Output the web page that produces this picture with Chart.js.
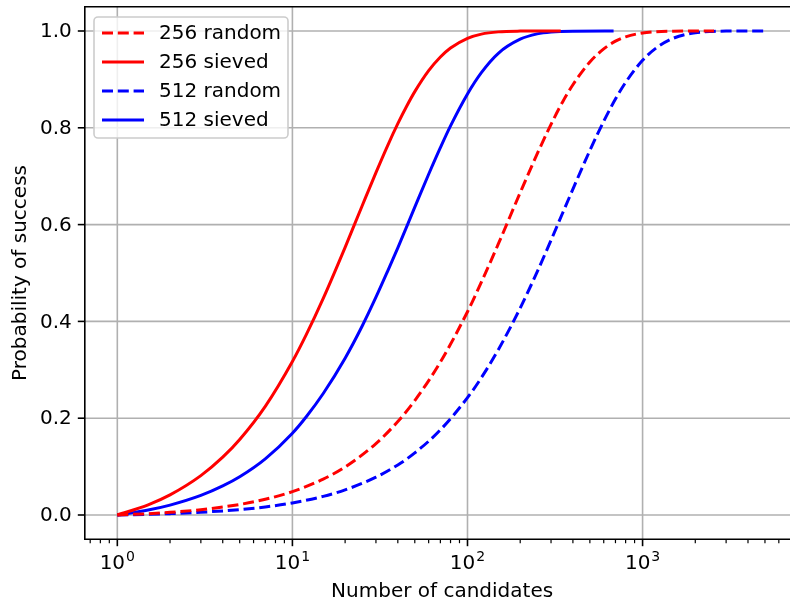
<!DOCTYPE html>
<html>
<head>
<meta charset="utf-8">
<script src="https://cdn.jsdelivr.net/npm/chart.js@4"></script>
<style>
  html, body { margin: 0; padding: 0; background: #fff; }
  canvas { display: block; }
</style>
</head>
<body>
<canvas id="probChart" width="790" height="604"></canvas>
<script>
  // values
  const candidates256Random = [1, 1.5, 2, 3, 5, 7, 10, 15, 20, 30, 40, 50, 70, 100, 120, 150, 200, 250, 300, 350, 400, 500, 600, 700, 800, 1000, 1200, 1500, 2000, 2560];
  const prob256Random = [0, 0.0027, 0.0055, 0.011, 0.0218, 0.0325, 0.0483, 0.0742, 0.0993, 0.1475, 0.1932, 0.2364, 0.316, 0.42, 0.481, 0.56, 0.666, 0.746, 0.807, 0.854, 0.889, 0.936, 0.963, 0.979, 0.988, 0.996, 0.9986, 0.9997, 1.0, 1.0];

  const candidates256Sieved = [1, 1.5, 2, 3, 4, 5, 7, 10, 12, 15, 20, 25, 30, 35, 40, 45, 50, 60, 70, 80, 100, 120, 150, 200, 250, 341];
  const prob256Sieved = [0, 0.021, 0.0415, 0.0813, 0.1194, 0.156, 0.2245, 0.3172, 0.3727, 0.4476, 0.5531, 0.6385, 0.7075, 0.7634, 0.8085, 0.845, 0.8747, 0.918, 0.9463, 0.9649, 0.985, 0.9936, 0.9982, 0.9998, 1.0, 1.0];

  const candidates512Random = [1, 1.5, 2, 3, 5, 7, 10, 15, 20, 30, 40, 50, 70, 100, 120, 150, 200, 250, 300, 350, 400, 500, 600, 700, 800, 1000, 1200, 1500, 2000, 2500, 3000, 5120];
  const prob512Random = [0, 0.0014, 0.0028, 0.0056, 0.0112, 0.0167, 0.0249, 0.0385, 0.0519, 0.0781, 0.1035, 0.1282, 0.1759, 0.2424, 0.2837, 0.3416, 0.4275, 0.5024, 0.5677, 0.6245, 0.6733, 0.7531, 0.8135, 0.8594, 0.8937, 0.9394, 0.9653, 0.9851, 0.9963, 0.9991, 0.9998, 1.0];

  const candidates512Sieved = [1, 1.5, 2, 3, 4, 5, 7, 10, 12, 15, 20, 25, 30, 35, 40, 50, 60, 70, 80, 100, 120, 150, 200, 250, 300, 400, 683];
  const prob512Sieved = [0, 0.0102, 0.0204, 0.0404, 0.06, 0.079, 0.116, 0.169, 0.203, 0.251, 0.324, 0.39, 0.45, 0.504, 0.552, 0.636, 0.704, 0.759, 0.804, 0.87, 0.914, 0.954, 0.983, 0.994, 0.998, 0.9997, 1.0];

  const seriesLabels = ['256 random', '256 sieved', '512 random', '512 sieved'];

  const xMajorTicks = [1, 10, 100, 1000];
  const xTickExponents = ['0', '1', '2', '3'];
  const yTicks = [0, 0.2, 0.4, 0.6, 0.8, 1.0];
  const yTickLabels = ['0.0', '0.2', '0.4', '0.6', '0.8', '1.0'];

  const FONT = '"DejaVu Sans", "Liberation Sans", sans-serif';
  const DASH = [11, 4.8];

  function toPoints(xs, ys) {
    return xs.map((x, i) => ({ x: x, y: ys[i] }));
  }

  function lineSet(label, xs, ys, color, dashed) {
    return {
      label: label,
      data: toPoints(xs, ys),
      borderColor: color,
      backgroundColor: color,
      borderWidth: 3,
      borderDash: dashed ? DASH : [],
      pointRadius: 0,
      fill: false,
      cubicInterpolationMode: 'monotone'
    };
  }

  // matplotlib-like axes, ticks, labels and legend
  const mplAxes = {
    id: 'mplAxes',
    beforeDatasetsDraw(chart) {
      const ctx = chart.ctx;
      const a = chart.chartArea;
      const xs = chart.scales.x, ys = chart.scales.y;
      ctx.save();
      ctx.strokeStyle = '#b0b0b0';
      ctx.lineWidth = 1.6;
      xMajorTicks.forEach(v => {
        const px = xs.getPixelForValue(v);
        ctx.beginPath(); ctx.moveTo(px, a.top); ctx.lineTo(px, a.bottom); ctx.stroke();
      });
      yTicks.forEach(v => {
        const py = ys.getPixelForValue(v);
        ctx.beginPath(); ctx.moveTo(a.left, py); ctx.lineTo(a.right, py); ctx.stroke();
      });
      ctx.restore();
    },
    afterDatasetsDraw(chart) {
      const ctx = chart.ctx;
      const a = chart.chartArea;
      const xs = chart.scales.x, ys = chart.scales.y;
      ctx.save();

      // spines (right one falls outside the picture)
      ctx.strokeStyle = '#000';
      ctx.lineWidth = 1.6;
      ctx.beginPath();
      ctx.moveTo(a.right + 2, a.top); ctx.lineTo(a.left, a.top);
      ctx.lineTo(a.left, a.bottom); ctx.lineTo(a.right + 2, a.bottom);
      ctx.stroke();

      // x ticks
      xMajorTicks.forEach(v => {
        const px = xs.getPixelForValue(v);
        ctx.beginPath(); ctx.moveTo(px, a.bottom); ctx.lineTo(px, a.bottom + 7); ctx.stroke();
      });
      ctx.lineWidth = 1.2;
      for (let k = -1; k <= 3; k++) {
        for (let m = 2; m <= 9; m++) {
          const v = m * Math.pow(10, k);
          if (v < xs.min || v > xs.max) continue;
          const px = xs.getPixelForValue(v);
          ctx.beginPath(); ctx.moveTo(px, a.bottom); ctx.lineTo(px, a.bottom + 4); ctx.stroke();
        }
      }
      // y ticks
      ctx.lineWidth = 1.6;
      yTicks.forEach(v => {
        const py = ys.getPixelForValue(v);
        ctx.beginPath(); ctx.moveTo(a.left, py); ctx.lineTo(a.left - 7, py); ctx.stroke();
      });

      ctx.fillStyle = '#000';
      // y tick labels
      ctx.font = '20px ' + FONT;
      ctx.textAlign = 'right';
      ctx.textBaseline = 'middle';
      yTicks.forEach((v, i) => {
        ctx.fillText(yTickLabels[i], a.left - 13, ys.getPixelForValue(v) + 1);
      });

      // x tick labels as 10^k
      ctx.textBaseline = 'alphabetic';
      ctx.textAlign = 'left';
      xMajorTicks.forEach((v, i) => {
        const px = xs.getPixelForValue(v);
        ctx.font = '20px ' + FONT;
        const wBase = ctx.measureText('10').width;
        ctx.font = '14px ' + FONT;
        const wExp = ctx.measureText(xTickExponents[i]).width;
        const x0 = px - (wBase + wExp + 1) / 2;
        ctx.font = '20px ' + FONT;
        ctx.fillText('10', x0, 569);
        ctx.font = '14px ' + FONT;
        ctx.fillText(xTickExponents[i], x0 + wBase + 1, 561);
      });

      // axis titles
      ctx.font = '20px ' + FONT;
      ctx.textAlign = 'center';
      ctx.fillText('Number of candidates', (a.left + 799.4) / 2, 597);
      ctx.save();
      ctx.translate(26, (a.top + a.bottom) / 2);
      ctx.rotate(-Math.PI / 2);
      ctx.fillText('Probability of success', 0, 0);
      ctx.restore();

      // legend
      const bx = 94, by = 17, bw = 194, bh = 121, r = 4;
      ctx.beginPath();
      ctx.moveTo(bx + r, by);
      ctx.arcTo(bx + bw, by, bx + bw, by + bh, r);
      ctx.arcTo(bx + bw, by + bh, bx, by + bh, r);
      ctx.arcTo(bx, by + bh, bx, by, r);
      ctx.arcTo(bx, by, bx + bw, by, r);
      ctx.closePath();
      ctx.fillStyle = 'rgba(255,255,255,0.8)';
      ctx.fill();
      ctx.strokeStyle = '#cccccc';
      ctx.lineWidth = 1.6;
      ctx.stroke();

      ctx.textAlign = 'left';
      ctx.textBaseline = 'middle';
      chart.data.datasets.forEach((ds, i) => {
        const cy = 33 + i * 29;
        ctx.strokeStyle = ds.borderColor;
        ctx.lineWidth = 3;
        ctx.setLineDash(ds.borderDash);
        ctx.beginPath(); ctx.moveTo(102, cy); ctx.lineTo(144, cy); ctx.stroke();
        ctx.setLineDash([]);
        ctx.fillStyle = '#000';
        ctx.fillText(ds.label, 159, cy + 1);
      });

      ctx.restore();
    }
  };

  const ctx = document.getElementById('probChart').getContext('2d');
  new Chart(ctx, {
    type: 'line',
    data: {
      datasets: [
        lineSet(seriesLabels[0], candidates256Random, prob256Random, '#ff0000', true),
        lineSet(seriesLabels[1], candidates256Sieved, prob256Sieved, '#ff0000', false),
        lineSet(seriesLabels[2], candidates512Random, prob512Random, '#0000ff', true),
        lineSet(seriesLabels[3], candidates512Sieved, prob512Sieved, '#0000ff', false)
      ]
    },
    options: {
      responsive: false,
      animation: false,
      devicePixelRatio: 1,
      layout: {
        padding: { left: 84.8, top: 6.8, right: 0, bottom: 64.8 }
      },
      plugins: {
        legend: { display: false },
        tooltip: { enabled: false }
      },
      scales: {
        x: {
          type: 'logarithmic',
          display: false,
          min: 0.652,
          max: 6950
        },
        y: {
          type: 'linear',
          display: false,
          min: -0.05,
          max: 1.05
        }
      }
    },
    plugins: [mplAxes]
  });
</script>
</body>
</html>
